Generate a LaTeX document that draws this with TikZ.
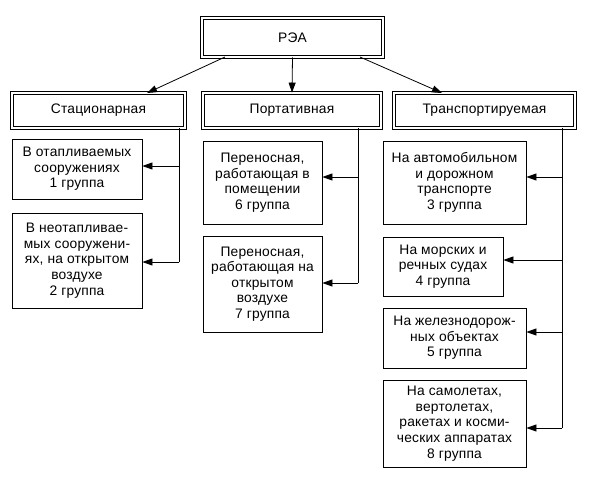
\documentclass[tikz,border=0pt]{standalone}
\usepackage{fontspec}
\setmainfont{Liberation Sans}[LetterSpace=1.5]
\usetikzlibrary{arrows.meta}
\tikzset{
  box/.style={draw, line width=0.8pt, inner sep=0pt, align=center,
    font=\fontsize{13.8}{15.6}\selectfont},
  headbox/.style={box, double, double distance=1.6pt},
  arr/.style={-{Triangle[length=10pt,width=7pt]}, line width=0.8pt},
  trunk/.style={line width=0.8pt}
}
\begin{document}
\begin{tikzpicture}[x=1pt,y=-1pt]
\useasboundingbox[fill=white] (0,0) rectangle (590,485);

\node[headbox, minimum width=181, minimum height=39] (rea) at (292.5,37.5) {РЭА};

\node[headbox, minimum width=173, minimum height=35] (stat) at (98.5,110.5) {Стационарная};
\node[headbox, minimum width=178, minimum height=35] (port) at (292,110.5) {Портативная};
\node[headbox, minimum width=181, minimum height=35] (trans) at (484.5,110.5) {Транспортируемая};

\node[box, minimum width=130, minimum height=60] (g1) at (77,169) {В отапливаемых\\сооружениях\\1 группа};
\node[box, minimum width=130, minimum height=95] (g2) at (77,260.5) {В неотапливае-\\мых сооружени-\\ях, на открытом\\воздухе\\2 группа};

\node[box, minimum width=119, minimum height=83] (g6) at (262.5,182.5) {Переносная,\\работающая в\\помещении\\6 группа};
\node[box, minimum width=119, minimum height=96] (g7) at (262.5,284) {Переносная,\\работающая на\\открытом\\воздухе\\7 группа};

\node[box, minimum width=143, minimum height=83] (g3) at (454.5,182.5) {На автомобильном\\и дорожном\\транспорте\\3 группа};
\node[box, minimum width=120, minimum height=59] (g4) at (443,266.5) {На морских и\\речных судах\\4 группа};
\node[box, minimum width=143, minimum height=60] (g5) at (454.5,338) {На железнодорож-\\ных объектах\\5 группа};
\node[box, minimum width=143, minimum height=87] (g8) at (454.5,423.5) {На самолетах,\\вертолетах,\\ракетах и косми-\\ческих аппаратах\\8 группа};

% from the top box
\coordinate (ra) at (225,57);
\coordinate (rb) at (360,57);
\coordinate (sa) at (147,93);
\coordinate (ta) at (442,93);
\draw[arr] (ra) -- (sa);
\draw[arr] (rea.south) -- (port.north);
\draw[arr] (rb) -- (ta);

% trunks
\coordinate (s1) at (179,166);
\coordinate (s2) at (179,262);
\coordinate (p1) at (358,177);
\coordinate (p2) at (358,283);
\coordinate (t1) at (562,177);
\coordinate (t2) at (562,260);
\coordinate (t3) at (562,332);
\coordinate (t4) at (562,428);

\draw[trunk] (stat.south -| s1) -- (s2);
\draw[trunk] (port.south -| p1) -- (p2);
\draw[trunk] (trans.south -| t1) -- (t4);

\draw[arr] (s1) -- (g1.east |- s1);
\draw[arr] (s2) -- (g2.east |- s2);
\draw[arr] (p1) -- (g6.east |- p1);
\draw[arr] (p2) -- (g7.east |- p2);
\draw[arr] (t1) -- (g3.east |- t1);
\draw[arr] (t2) -- (g4.east |- t2);
\draw[arr] (t3) -- (g5.east |- t3);
\draw[arr] (t4) -- (g8.east |- t4);
\end{tikzpicture}
\end{document}
